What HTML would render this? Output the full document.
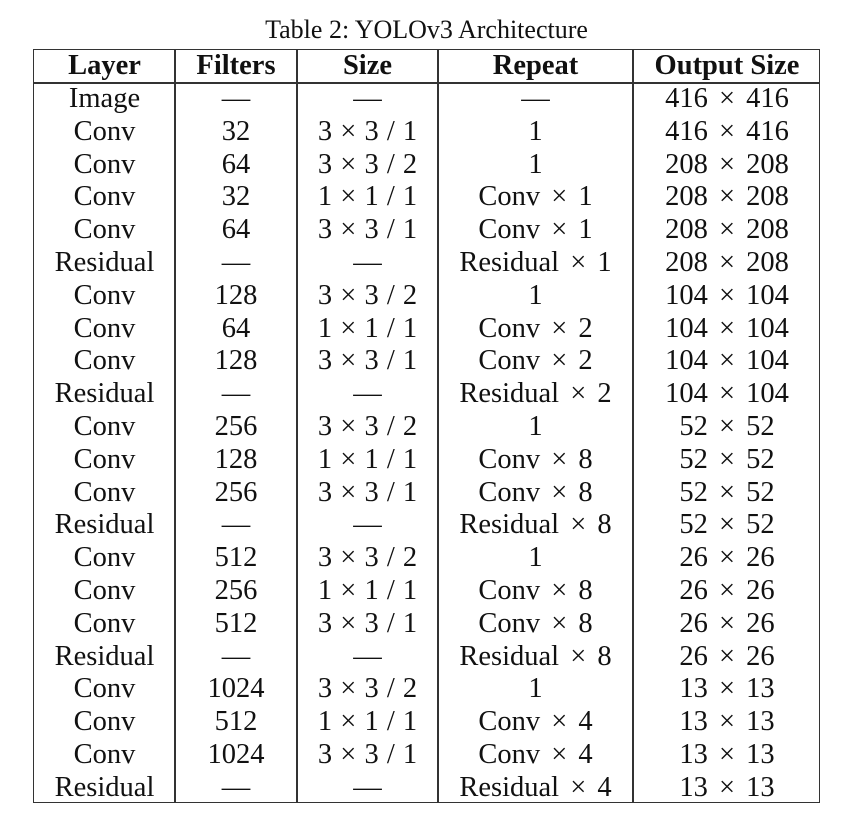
<!DOCTYPE html>
<html><head><meta charset="utf-8"><style>
body{margin:0;width:853px;height:824px;background:#fff;position:relative;font-family:"Liberation Serif",serif;color:#111;overflow:hidden}
#title{position:absolute;left:0;width:853px;top:15px;text-align:center;font-size:26px;line-height:30px}
#tbl{position:absolute;left:33px;top:49px;width:787px;height:754px;border:1.5px solid #333;box-sizing:border-box}
.vl{position:absolute;top:0;bottom:0;width:1.5px;background:#333}
.hl{position:absolute;left:0;right:0;height:1.5px;background:#333;top:32px}
.c{position:absolute;text-align:center;font-size:28.5px;line-height:32.8px;white-space:nowrap;word-spacing:4px}
.s{word-spacing:1px}
.h{font-weight:bold;word-spacing:0}
</style></head><body>
<div id="title">Table 2: YOLOv3 Architecture</div>
<div id="tbl"></div>
<script>
const headers=["Layer","Filters","Size","Repeat","Output Size"];
const rows=[
["Image","—","—","—","416 × 416"],
["Conv","32","3 × 3 / 1","1","416 × 416"],
["Conv","64","3 × 3 / 2","1","208 × 208"],
["Conv","32","1 × 1 / 1","Conv × 1","208 × 208"],
["Conv","64","3 × 3 / 1","Conv × 1","208 × 208"],
["Residual","—","—","Residual × 1","208 × 208"],
["Conv","128","3 × 3 / 2","1","104 × 104"],
["Conv","64","1 × 1 / 1","Conv × 2","104 × 104"],
["Conv","128","3 × 3 / 1","Conv × 2","104 × 104"],
["Residual","—","—","Residual × 2","104 × 104"],
["Conv","256","3 × 3 / 2","1","52 × 52"],
["Conv","128","1 × 1 / 1","Conv × 8","52 × 52"],
["Conv","256","3 × 3 / 1","Conv × 8","52 × 52"],
["Residual","—","—","Residual × 8","52 × 52"],
["Conv","512","3 × 3 / 2","1","26 × 26"],
["Conv","256","1 × 1 / 1","Conv × 8","26 × 26"],
["Conv","512","3 × 3 / 1","Conv × 8","26 × 26"],
["Residual","—","—","Residual × 8","26 × 26"],
["Conv","1024","3 × 3 / 2","1","13 × 13"],
["Conv","512","1 × 1 / 1","Conv × 4","13 × 13"],
["Conv","1024","3 × 3 / 1","Conv × 4","13 × 13"],
["Residual","—","—","Residual × 4","13 × 13"]];
const colEdges=[0,141,263,404,599,787];
const t=document.getElementById('tbl');
for(let i=1;i<colEdges.length-1;i++){
 const v=document.createElement('div');v.className='vl';v.style.left=(colEdges[i]-1)+'px';
 
 
 t.appendChild(v);
}
const hl=document.createElement('div');hl.className='hl';


t.appendChild(hl);
function cell(txt,ci,top,cls){
 const d=document.createElement('div');d.className='c'+(cls?' '+cls:'');
 d.style.left=colEdges[ci]+'px';d.style.width=(colEdges[ci+1]-colEdges[ci])+'px';d.style.top=top+'px';
 d.textContent=txt;
 
 
 t.appendChild(d);
}
headers.forEach((h,i)=>cell(h,i,0,'h'));
rows.forEach((r,ri)=>r.forEach((v,ci)=>cell(v,ci,32+ri*32.8+1,ci===2?'s':'')));
</script>
</body></html>
